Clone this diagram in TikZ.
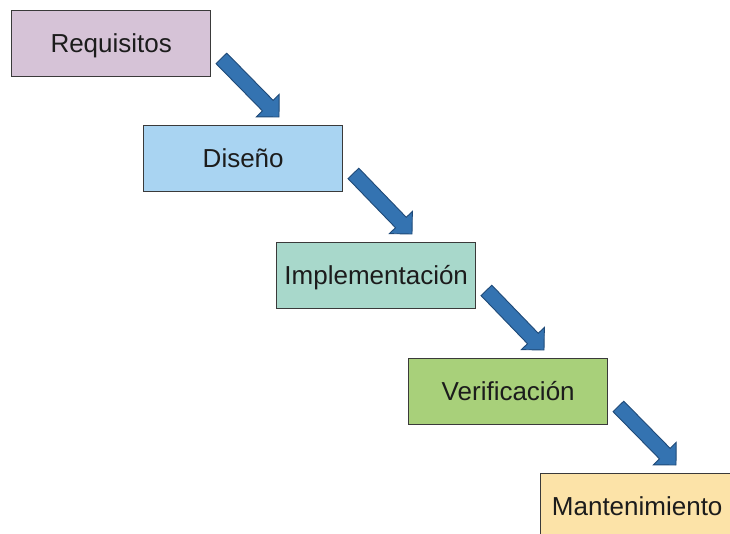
\documentclass[tikz,border=0pt]{standalone}
\usepackage{fontspec}
\setmainfont{Liberation Sans}
\usetikzlibrary{calc}
\definecolor{boxline}{HTML}{3A3A3A}
\definecolor{txt}{HTML}{1C1C1C}
\definecolor{reqfill}{HTML}{D6C3D7}
\definecolor{disfill}{HTML}{A9D4F2}
\definecolor{impfill}{HTML}{A8D8CB}
\definecolor{verfill}{HTML}{A8D07A}
\definecolor{manfill}{HTML}{FCE3A8}
\definecolor{arrowfill}{HTML}{3473B1}
\definecolor{arrowline}{HTML}{1F4A78}
\begin{document}
\begin{tikzpicture}[x=1pt,y=-1pt,
  phase/.style={draw=boxline, line width=1.4pt, minimum width=199pt,
    minimum height=66pt, inner sep=0pt, text height=18.5pt, text depth=0pt,
    font=\fontsize{26}{31}\selectfont, text=txt, anchor=north west},
  flow/.style={fill=arrowfill, draw=arrowline, line width=0.9pt, line join=miter}]
\useasboundingbox (0,0) rectangle (730,533);
\begin{scope}
\clip (0,0) rectangle (730,533);
% the five phases, stepping down to the right
\node[phase, fill=reqfill] (req) at (11,10) {Requisitos};
\node[phase, fill=disfill] (dis) at (143,125) {Diseño};
\node[phase, fill=impfill] (imp) at (276,242) {Implementación};
\node[phase, fill=verfill] (ver) at (408,358) {Verificación};
\node[phase, fill=manfill, minimum width=193pt] (man) at (540,473) {Mantenimiento};
\fill[manfill] (730,474) rectangle (745,540);
% block arrows from each phase to the next
\foreach \a/\b in {req/dis, dis/imp, imp/ver, ver/man} {
  \coordinate (s) at ($(\a.south east)+(10,-19)$);
  \coordinate (t) at ($(\b.north west)+(136,-8)$);
  \coordinate (h) at ($(t)!16pt!(s)$);
  \draw[flow] ($(s)!7.5pt!90:(t)$) -- ($(h)!7.5pt!90:(t)$)
    -- ($(h)!16pt!90:(t)$) -- (t) -- ($(h)!16pt!-90:(t)$)
    -- ($(h)!7.5pt!-90:(t)$) -- ($(s)!7.5pt!-90:(t)$) -- cycle;
}
\end{scope}
\end{tikzpicture}
\end{document}
